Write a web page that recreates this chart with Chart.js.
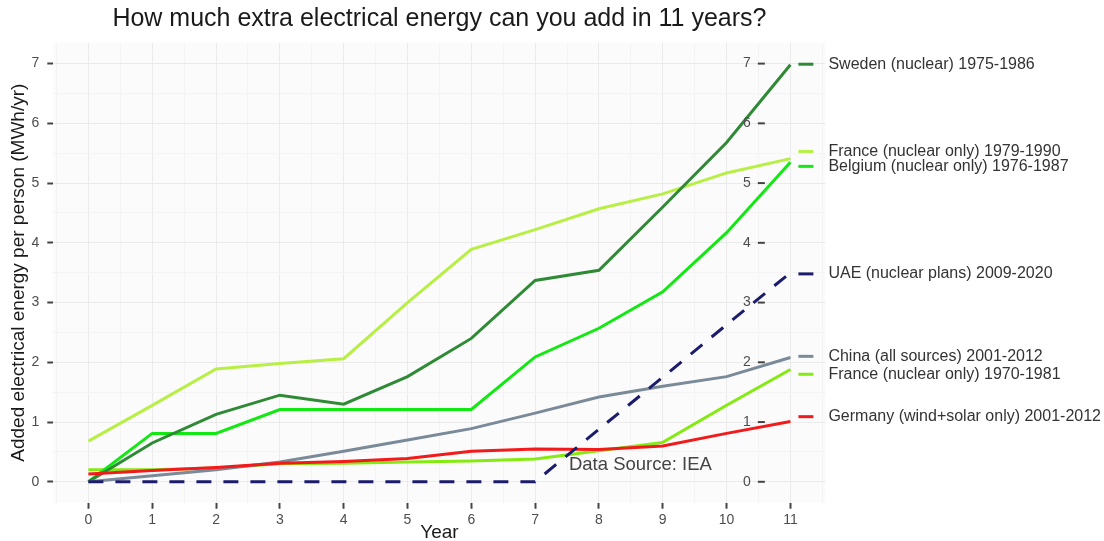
<!DOCTYPE html>
<html>
<head>
<meta charset="utf-8">
<script src="https://cdn.jsdelivr.net/npm/chart.js@4.4.1/dist/chart.umd.min.js"></script>
<style>
  body { margin: 0; background: #fff; }
  #wrap { width: 1104px; height: 541px; }
</style>
</head>
<body>
<div id="wrap"><canvas id="energyChart"></canvas></div>
<script>
// years after start of each build-out
const years = [0, 1, 2, 3, 4, 5, 6, 7, 8, 9, 10, 11]

// added MWh/yr per person
const sweden = [0, 0.65, 1.13, 1.45, 1.3, 1.76, 2.4, 3.37, 3.54, 4.6, 5.68, 6.98]
const france79 = [0.68, 1.28, 1.89, 1.98, 2.06, 3.0, 3.89, 4.22, 4.57, 4.82, 5.17, 5.41]
const belgium = [0, 0.81, 0.81, 1.21, 1.21, 1.21, 1.21, 2.09, 2.57, 3.18, 4.17, 5.35]
const uae = [0, 0, 0, 0, 0, 0, 0, 0, 0.88, 1.75, 2.63, 3.5]
const china = [0, 0.1, 0.2, 0.33, 0.51, 0.7, 0.89, 1.15, 1.42, 1.6, 1.76, 2.08]
const france70 = [0.2, 0.2, 0.23, 0.3, 0.31, 0.33, 0.35, 0.38, 0.52, 0.66, 1.28, 1.88]
const germany = [0.13, 0.19, 0.24, 0.31, 0.34, 0.39, 0.51, 0.55, 0.54, 0.6, 0.81, 1.01]

const seriesNames = [
  "Sweden (nuclear) 1975-1986",
  "France (nuclear only) 1979-1990",
  "Belgium (nuclear only) 1976-1987",
  "UAE (nuclear plans) 2009-2020",
  "China (all sources) 2001-2012",
  "France (nuclear only) 1970-1981",
  "Germany (wind+solar only) 2001-2012",
]

// tick values (major = integers, the halves are minor grid lines)
const xTicks = [-0.5, 0, 0.5, 1, 1.5, 2, 2.5, 3, 3.5, 4, 4.5, 5, 5.5, 6, 6.5, 7, 7.5, 8, 8.5, 9, 9.5, 10, 10.5, 11, 11.5]
const yTicks = [0, 0.5, 1, 1.5, 2, 2.5, 3, 3.5, 4, 4.5, 5, 5.5, 6, 6.5, 7]
const innerTicks = [0, 1, 2, 3, 4, 5, 6, 7]

const FONT = "'Liberation Sans', Arial, Helvetica, sans-serif"
Chart.defaults.font.family = FONT

const colors = {
  sweden: "#2f8a35",
  france79: "#b8ef45",
  belgium: "#12e812",
  uae: "#1c1c6c",
  china: "#7a8a99",
  france70: "#84ea10",
  germany: "#f21a1a",
}

const toPoints = vals => years.map((x, i) => ({ x, y: vals[i] }))

// first dataset is drawn on top
const datasets = [
  { label: seriesNames[3], data: toPoints(uae), borderColor: colors.uae, borderDash: [15, 12] },
  { label: seriesNames[6], data: toPoints(germany), borderColor: colors.germany },
  { label: seriesNames[4], data: toPoints(china), borderColor: colors.china },
  { label: seriesNames[0], data: toPoints(sweden), borderColor: colors.sweden },
  { label: seriesNames[2], data: toPoints(belgium), borderColor: colors.belgium },
  { label: seriesNames[5], data: toPoints(france70), borderColor: colors.france70 },
  { label: seriesNames[1], data: toPoints(france79), borderColor: colors.france79 },
]

const isMajor = ctx => ctx.tick && Number.isInteger(ctx.tick.value)
const gridColor = ctx => (isMajor(ctx) ? "#ebebeb" : "#f4f4f4")
const tickMarkColor = ctx => (isMajor(ctx) ? "#444" : "rgba(0,0,0,0)")

// grey panel behind the grid
const panelBg = {
  id: "panelBg",
  beforeDraw(chart) {
    const { ctx, chartArea: a } = chart
    ctx.save()
    ctx.fillStyle = "#fbfbfb"
    ctx.fillRect(a.left, a.top, a.right - a.left, a.bottom - a.top)
    ctx.restore()
  },
}

// inner axis near x=11, line labels and the source note
const sideLabels = {
  id: "sideLabels",
  afterDatasetsDraw(chart, args, opts) {
    const { ctx, scales: { x, y } } = chart
    ctx.save()
    ctx.textBaseline = "middle"

    ctx.font = "14px " + FONT
    ctx.textAlign = "right"
    const ax = x.getPixelForValue(opts.innerAxisAt)
    innerTicks.forEach(v => {
      const py = y.getPixelForValue(v)
      ctx.fillStyle = "#4d4d4d"
      ctx.fillText(String(v), ax, py)
      ctx.strokeStyle = "#444"
      ctx.lineWidth = 2
      ctx.beginPath()
      ctx.moveTo(ax + 7, py)
      ctx.lineTo(ax + 14, py)
      ctx.stroke()
    })

    const x11 = x.getPixelForValue(11)
    ctx.font = "16px " + FONT
    ctx.textAlign = "left"
    opts.labels.forEach(l => {
      const py = y.getPixelForValue(l.at)
      const ds = datasets.find(d => d.label === l.name)
      ctx.strokeStyle = ds.borderColor
      ctx.lineWidth = 3
      ctx.beginPath()
      ctx.moveTo(x11 + 8, py)
      ctx.lineTo(x11 + 23, py)
      ctx.stroke()
      ctx.fillStyle = "#333"
      ctx.fillText(l.name, x11 + 38, py)
    })

    ctx.font = "18.5px " + FONT
    ctx.fillStyle = "#444"
    ctx.fillText(opts.source.text, x.getPixelForValue(opts.source.x), y.getPixelForValue(opts.source.y))
    ctx.restore()
  },
}

new Chart(document.getElementById("energyChart"), {
  type: "line",
  data: { datasets },
  options: {
    responsive: true,
    maintainAspectRatio: false,
    animation: false,
    layout: { padding: { right: 278.5 } },
    elements: {
      point: { radius: 0 },
      line: { borderWidth: 3, tension: 0, fill: false },
    },
    plugins: {
      legend: { display: false },
      tooltip: { enabled: false },
      title: {
        display: true,
        text: "How much extra electrical energy can you add in 11 years?",
        fullSize: false,
        color: "#1a1a1a",
        font: { size: 25, weight: "normal", lineHeight: 1.2 },
        padding: { top: 4, bottom: 8.7 },
      },
      sideLabels: {
        innerAxisAt: 10.38,
        labels: [
          { name: seriesNames[0], at: 6.99 },
          { name: seriesNames[1], at: 5.53 },
          { name: seriesNames[2], at: 5.28 },
          { name: seriesNames[3], at: 3.48 },
          { name: seriesNames[4], at: 2.1 },
          { name: seriesNames[5], at: 1.8 },
          { name: seriesNames[6], at: 1.09 },
        ],
        source: { text: "Data Source: IEA", x: 7.53, y: 0.285 },
      },
    },
    scales: {
      x: {
        type: "linear",
        min: -0.55,
        max: 11.55,
        afterBuildTicks: s => { s.ticks = xTicks.map(v => ({ value: v })) },
        afterFit: s => { s.height = 38.3 },
        border: { display: false },
        grid: { color: gridColor, lineWidth: 1, tickColor: tickMarkColor, tickLength: 6, tickWidth: 2 },
        ticks: {
          autoSkip: false,
          maxRotation: 0,
          padding: 3,
          color: "#4d4d4d",
          font: { size: 14 },
          callback: v => (Number.isInteger(v) ? v : ""),
        },
        title: {
          display: true,
          text: "Year",
          color: "#1a1a1a",
          font: { size: 19, lineHeight: 0.85 },
          padding: 0,
        },
      },
      y: {
        type: "linear",
        min: -0.35,
        max: 7.35,
        afterBuildTicks: s => { s.ticks = yTicks.map(v => ({ value: v })) },
        afterFit: s => { s.width = 53.3 },
        border: { display: false },
        grid: { color: gridColor, lineWidth: 1, tickColor: tickMarkColor, tickLength: 6, tickWidth: 2 },
        ticks: {
          autoSkip: false,
          padding: 8,
          color: "#4d4d4d",
          font: { size: 14 },
          callback: v => (Number.isInteger(v) ? v : ""),
        },
        title: {
          display: true,
          text: "Added electrical energy per person (MWh/yr)",
          color: "#1a1a1a",
          font: { size: 19, lineHeight: 1 },
          padding: { top: 9, bottom: 0 },
        },
      },
    },
  },
  plugins: [panelBg, sideLabels],
})
</script>
</body>
</html>
